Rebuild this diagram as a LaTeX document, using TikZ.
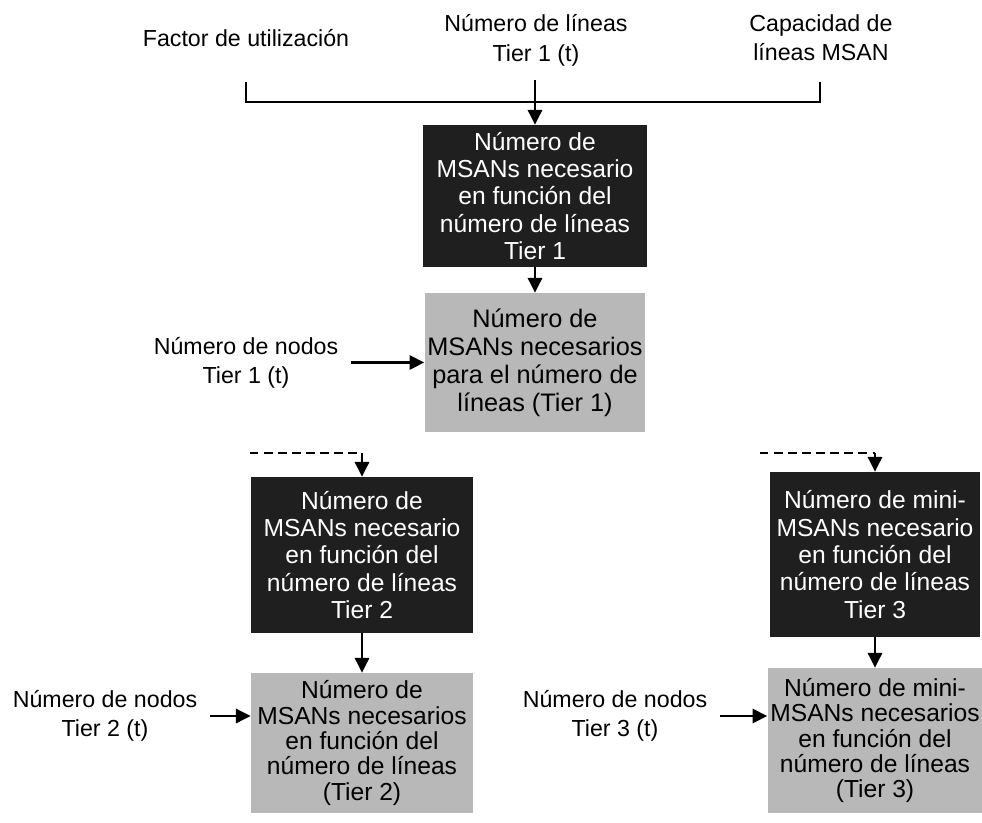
\documentclass[tikz,border=0pt]{standalone}
\usepackage{fontspec}
\setmainfont{Liberation Sans}
\usetikzlibrary{arrows.meta}

\begin{document}
\begin{tikzpicture}[x=0.025cm,y=-0.025cm,
    etiqueta/.style={align=center,inner sep=9pt,font=\fontsize{16.5}{20.5}\selectfont},
    oscuro/.style={fill=black!88,text=white,align=center,inner sep=2pt,font=\fontsize{17.5}{19.5}\selectfont},
    claro/.style={fill=black!28,align=center,inner sep=2pt,font=\fontsize{17.5}{18}\selectfont},
    flecha/.style={-{Triangle[length=10.5pt,width=10pt]},line width=2pt}]
  \useasboundingbox[fill=white] (0,0) rectangle (982,823);
  \draw
    (246,38) node[etiqueta] (fu){Factor de utilización}
    (536,40) node[etiqueta,font=\fontsize{16.5}{21.5}\selectfont] (nl){Número de líneas\\Tier 1 (t)}
    (821,38) node[etiqueta] (cl){Capacidad de\\líneas MSAN}
    (246,362.5) node[etiqueta] (n1){Número de nodos\\Tier 1 (t)}
    (105,716) node[etiqueta] (n2){Número de nodos\\Tier 2 (t)}
    (615,716) node[etiqueta] (n3){Número de nodos\\Tier 3 (t)}
    (535,196) node[oscuro,minimum width=5.575cm,minimum height=3.55cm] (1)
      {Número de\\MSANs necesario\\en función del\\número de líneas\\Tier 1}
    (535,362.5) node[claro,minimum width=5.45cm,minimum height=3.475cm,font=\fontsize{18}{20}\selectfont] (2)
      {Número de\\MSANs necesarios\\para el número de\\líneas (Tier 1)}
    (362,555) node[oscuro,minimum width=5.55cm,minimum height=3.9cm] (3)
      {Número de\\MSANs necesario\\en función del\\número de líneas\\Tier 2}
    (362,743) node[claro,minimum width=5.55cm,minimum height=3.5cm] (4)
      {Número de\\MSANs necesarios\\en función del\\número de líneas\\(Tier 2)}
    (875,554.5) node[oscuro,minimum width=5.25cm,minimum height=4.125cm] (5)
      {Número de mini-\\MSANs necesario\\en función del\\número de líneas\\Tier 3}
    (875,740.5) node[claro,minimum width=5.35cm,minimum height=3.625cm] (6)
      {Número de mini-\\MSANs necesarios\\en función del\\número de líneas\\(Tier 3)};
  \coordinate (fu1) at (246,82);
  \coordinate (j1) at (246,102);
  \coordinate (j2) at (820,102);
  \coordinate (cl1) at (820,82);
  \coordinate (nl1) at (535,80);
  \coordinate (d3a) at (250,453);
  \coordinate (d3b) at (362,453);
  \coordinate (d5a) at (760,453);
  \coordinate (d5b) at (875,453);
  \draw[line width=2pt] (fu1) -- (j1) -- (j2) -- (cl1);
  \draw[line width=1.6pt,dash pattern=on 6pt off 4pt] (d3a) -- (d3b);
  \draw[line width=1.6pt,dash pattern=on 6pt off 4pt] (d5a) -- (d5b);
  \begin{scope}[flecha]
    \draw (nl1) to (1);
    \draw (1) to (2);
    \draw (n1) to (2);
    \draw (d3b) to (3);
    \draw (3) to (4);
    \draw (n2.east) to (n2.east -| 4.west);
    \draw (d5b) to (5);
    \draw (5) to (6);
    \draw (n3.east) to (n3.east -| 6.west);
  \end{scope}
\end{tikzpicture}
\end{document}
